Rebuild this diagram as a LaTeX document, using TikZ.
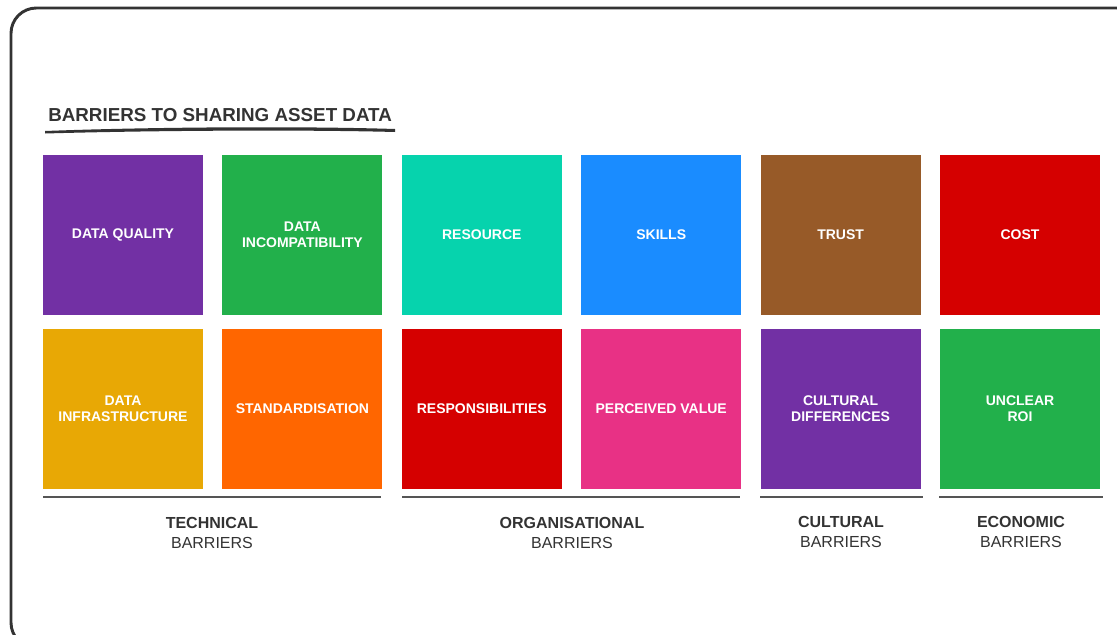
\documentclass[tikz,border=0pt]{standalone}
\usepackage{fontspec}
\setmainfont{Liberation Sans}
\usetikzlibrary{positioning}

\definecolor{inkgray}{HTML}{333333}
\definecolor{rulegray}{HTML}{555555}
\definecolor{barpurple}{HTML}{7230A4}
\definecolor{bargreen}{HTML}{22B04B}
\definecolor{barteal}{HTML}{06D3AD}
\definecolor{barblue}{HTML}{1A8CFF}
\definecolor{barbrown}{HTML}{975A28}
\definecolor{barred}{HTML}{D50000}
\definecolor{bargold}{HTML}{E8A805}
\definecolor{barorange}{HTML}{FF6600}
\definecolor{barpink}{HTML}{E83185}

\tikzset{
  tile/.style={rectangle, minimum width=120pt, minimum height=120pt, inner sep=0pt,
    text=white, align=center, font=\bfseries\fontsize{10.5}{12}\selectfont},
  grouprule/.style={draw=rulegray, line width=1.4pt},
  grouplabel/.style={text=inkgray, align=center, font=\fontsize{12}{14.3}\selectfont}
}

\begin{document}
\begin{tikzpicture}[x=0.75pt, y=-0.75pt]
\useasboundingbox (0,0) rectangle (1117,635);
\draw[inkgray, line width=2.2pt, rounded corners=19pt] (11,8) rectangle (1142,648);
%
\draw (48,115) node[anchor=west, inner sep=0pt, text=inkgray, font=\bfseries\fontsize{14.1}{17}\selectfont] (title) {BARRIERS TO SHARING ASSET DATA};
\fill[inkgray] (45,131) .. controls (150,127) and (300,126) .. (395,129)
  -- (395,132) .. controls (300,129.5) and (150,130.5) .. (45,133.5) -- cycle;
%
\draw (123,235) node[tile, fill=barpurple] (quality) {DATA QUALITY};
\draw (quality)++(179.4,0) node[tile, fill=bargreen] (incompat) {DATA\\INCOMPATIBILITY};
\draw (incompat)++(179.4,0) node[tile, fill=barteal] (resource) {RESOURCE};
\draw (resource)++(179.4,0) node[tile, fill=barblue] (skills) {SKILLS};
\draw (skills)++(179.4,0) node[tile, fill=barbrown] (trust) {TRUST};
\draw (trust)++(179.4,0) node[tile, fill=barred] (cost) {COST};
%
\draw (123,409) node[tile, fill=bargold] (infra) {DATA\\INFRASTRUCTURE};
\draw (infra)++(179.4,0) node[tile, fill=barorange] (standard) {STANDARDISATION};
\draw (standard)++(179.4,0) node[tile, fill=barred] (respons) {RESPONSIBILITIES};
\draw (respons)++(179.4,0) node[tile, fill=barpink] (value) {PERCEIVED VALUE};
\draw (value)++(179.4,0) node[tile, fill=barpurple] (cultdiff) {CULTURAL\\DIFFERENCES};
\draw (cultdiff)++(179.4,0) node[tile, fill=bargreen] (roi) {UNCLEAR\\ROI};
%
\draw[grouprule] (43,497) -- (381,497);
\draw[grouprule] (402,497) -- (740,497);
\draw[grouprule] (760,497) -- (923,497);
\draw[grouprule] (939,497) -- (1103,497);
%
\draw (212,533) node[grouplabel] (technical) {\textbf{TECHNICAL}\\BARRIERS};
\draw (572,533) node[grouplabel] (organisational) {\textbf{ORGANISATIONAL}\\BARRIERS};
\draw (841,532) node[grouplabel] (cultural) {\textbf{CULTURAL}\\BARRIERS};
\draw (1021,532) node[grouplabel] (economic) {\textbf{ECONOMIC}\\BARRIERS};
\end{tikzpicture}
\end{document}
